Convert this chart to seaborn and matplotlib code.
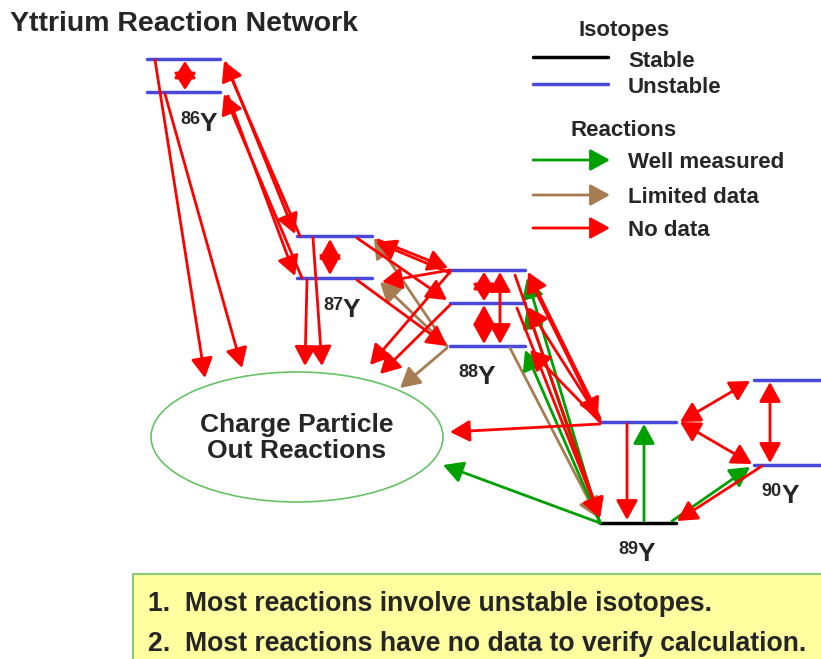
import numpy as np
import pandas as pd
import seaborn as sns
import matplotlib.pyplot as plt
from matplotlib.patches import FancyArrowPatch, Ellipse, Rectangle

# NUCLEAR LEVELS: (isotope, x_left, x_right, y, kind)
levels = [
    ('86Y', 147, 220, 59, 'Unstable'), ('86Y', 147, 220, 92, 'Unstable'),
    ('87Y', 297, 372, 236, 'Unstable'), ('87Y', 297, 372, 278, 'Unstable'),
    ('88Y', 450, 525, 270, 'Unstable'), ('88Y', 450, 525, 303, 'Unstable'),
    ('88Y', 450, 525, 346, 'Unstable'),
    ('89Y', 600, 676, 422, 'Unstable'), ('89Y', 600, 676, 523, 'Stable'),
    ('90Y', 754, 822, 380, 'Unstable'), ('90Y', 754, 822, 465, 'Unstable'),
]

# ISOTOPE LABELS: (mass number, x, baseline y)
iso_labels = [('86', 200, 131), ('87', 343, 317), ('88', 478, 384),
              ('89', 638, 561), ('90', 782, 503)]

# REACTIONS: (x_from, y_from, x_to, y_to, both_ways)
no_data = [
    (185, 61, 185, 90, True),
    (300, 236, 224, 61, False), (226, 63, 295, 234, False),
    (302, 278, 224, 94, False), (228, 96, 295, 276, False),
    (155, 60, 205, 378, False), (165, 94, 242, 368, False),
    (330, 239, 330, 275, True),
    (313, 238, 322, 366, False), (307, 280, 305, 366, False),
    (378, 240, 448, 268, False), (450, 273, 376, 242, False),
    (450, 270, 382, 282, False),
    (357, 238, 447, 300, False), (357, 280, 447, 346, False),
    (450, 272, 370, 365, False), (450, 305, 380, 374, False),
    (484, 272, 484, 301, True), (484, 305, 484, 344, True),
    (500, 272, 500, 344, True),
    (600, 418, 528, 272, False), (530, 280, 598, 418, False),
    (600, 420, 528, 307, False), (600, 422, 530, 350, False),
    (515, 275, 600, 518, False), (517, 308, 600, 518, False),
    (600, 424, 450, 432, False),
    (627, 424, 627, 520, False),
    (680, 422, 750, 381, True), (680, 422, 752, 464, True),
    (770, 382, 770, 463, True),
    (762, 466, 677, 521, False),
]
well_measured = [
    (600, 523, 527, 278, False), (600, 523, 527, 308, False),
    (600, 523, 525, 350, False), (600, 523, 443, 465, False),
    (644, 521, 644, 424, False), (672, 521, 750, 467, False),
]
limited_data = [
    (447, 346, 374, 238, False), (447, 346, 380, 282, False),
    (447, 348, 400, 388, False), (510, 348, 598, 518, False),
]

notes = ['1.  Most reactions involve unstable isotopes.',
         '2.  Most reactions have no data to verify calculation.']

RED, GREEN, BROWN, BLUE = '#ff0000', '#00a000', '#a67c52', '#4848dc'

sns.set_theme(style='white')
plt.rcParams['font.family'] = ['Liberation Sans', 'DejaVu Sans']

fig = plt.figure(figsize=(8.21, 6.59), dpi=100)
ax = fig.add_axes([0, 0, 1, 1])

# LEVEL LINES
rows = []
for i, (iso, x0, x1, y, kind) in enumerate(levels):
    rows.append({'x': x0, 'y': y, 'id': i, 'kind': kind})
    rows.append({'x': x1, 'y': y, 'id': i, 'kind': kind})
df = pd.DataFrame(rows)
sns.lineplot(data=df, x='x', y='y', units='id', estimator=None, hue='kind',
             palette={'Stable': 'black', 'Unstable': BLUE}, lw=2.5,
             legend=False, ax=ax)


def arrow(x0, y0, x1, y1, color, both=False):
    if both:
        # short two-way arrows: heads meet halfway, giving the diamond look
        span = np.hypot(x1 - x0, y1 - y0) * 72 / 100
        hl = min(0.6, span / 2 / 20)
        style = '<|-|>,head_length=%.2f,head_width=0.33' % hl
    else:
        style = '-|>,head_length=0.6,head_width=0.33'
    ax.add_patch(FancyArrowPatch((x0, y0), (x1, y1), arrowstyle=style,
                                 mutation_scale=20, color=color, lw=2,
                                 shrinkA=0, shrinkB=0, zorder=3))


for reacts, col in [(limited_data, BROWN), (well_measured, GREEN), (no_data, RED)]:
    for x0, y0, x1, y1, both in reacts:
        arrow(x0, y0, x1, y1, col, both)

# CHARGE PARTICLE OUT ELLIPSE
ax.add_patch(Ellipse((297, 437), 292, 130, fill=False, ec='#66c266', lw=1.2))
ax.text(297, 438, 'Charge Particle\nOut Reactions', ha='center', va='center',
        fontsize=19, fontweight='bold', linespacing=1.15)

# ISOTOPE LABELS
for mass, x, y in iso_labels:
    ax.text(x, y - 7, mass, ha='right', va='baseline', fontsize=13, fontweight='bold')
    ax.text(x, y, 'Y', ha='left', va='baseline', fontsize=19, fontweight='bold')

# TITLE
ax.text(10, 31, 'Yttrium Reaction Network', ha='left', va='baseline',
        fontsize=20.5, fontweight='bold')

# LEGEND
ax.text(578, 36, 'Isotopes', ha='left', va='baseline', fontsize=16, fontweight='bold')
ax.plot([533, 608], [57, 57], color='black', lw=2.5)
ax.plot([533, 608], [84, 84], color=BLUE, lw=2.5)
ax.text(628, 67, 'Stable', ha='left', va='baseline', fontsize=16, fontweight='bold')
ax.text(628, 93, 'Unstable', ha='left', va='baseline', fontsize=16, fontweight='bold')
ax.text(570, 136, 'Reactions', ha='left', va='baseline', fontsize=16, fontweight='bold')
for y, col, lab in [(160, GREEN, 'Well measured'), (195, BROWN, 'Limited data'),
                    (228, RED, 'No data')]:
    arrow(533, y, 610, y, col)
    ax.text(628, y + 8, lab, ha='left', va='baseline', fontsize=16, fontweight='bold')

# NOTES BOX
ax.add_patch(Rectangle((133, 574), 700, 100, fc='#ffffa0', ec='#88cc77', lw=1.5))
for i, note in enumerate(notes):
    ax.text(148, 611 + i * 40, note, ha='left', va='baseline', fontsize=19.2,
            fontweight='bold')

ax.set_xlim(0, 821)
ax.set_ylim(659, 0)
ax.axis('off')
fig.savefig('out.png', dpi=100)
